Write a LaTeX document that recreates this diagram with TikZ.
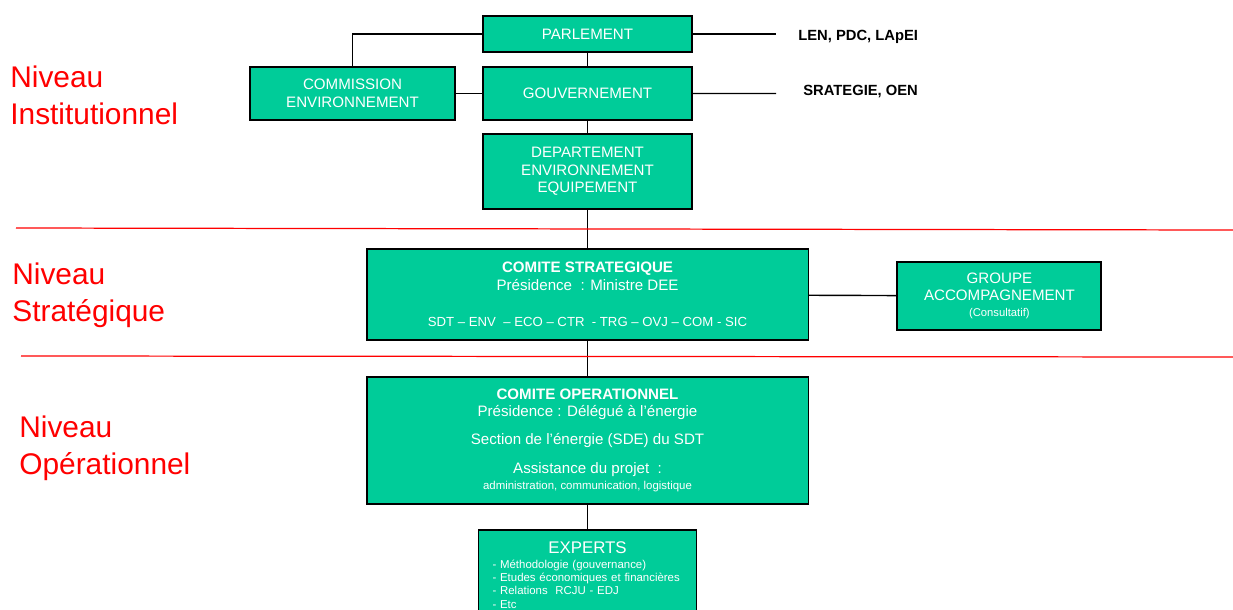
\documentclass[tikz,border=0pt]{standalone}
\usepackage{fontspec}
\setmainfont{Liberation Sans}
\usetikzlibrary{positioning}
\definecolor{boxgreen}{RGB}{0,204,153}
\definecolor{levelred}{RGB}{255,0,0}
\tikzset{
  orgbox/.style={
    rectangle, draw=black, line width=1.1pt, fill=boxgreen,
    text=white, align=center, inner sep=0pt, outer sep=0pt,
    font=\fontsize{8.6}{10}\selectfont
  },
  link/.style={line width=0.8pt},
  sepline/.style={draw=levelred, line width=0.7pt},
  lvl/.style={anchor=base west, inner sep=0pt, text=levelred, align=left,
    font=\fontsize{17}{20.5}\selectfont},
  side/.style={anchor=west, inner sep=0pt, font=\bfseries\fontsize{8.4}{10}\selectfont}
}

\begin{document}
\begin{tikzpicture}[x=0.02cm, y=-0.02cm]
  \useasboundingbox (0,0) rectangle (1233,609);
  \clip (0,0) rectangle (1233,609);

  %% niveau institutionnel
  \node[orgbox, minimum width=4.18cm, minimum height=0.72cm] (parl) at (587.5,34)
        {PARLEMENT};
  \node[orgbox, minimum width=4.18cm, minimum height=1.06cm, below=0.3cm of parl] (gouv)
        {GOUVERNEMENT};
  \node[orgbox, minimum width=4.1cm, minimum height=1.06cm, left=0.56cm of gouv] (comm)
        {COMMISSION\\ENVIRONNEMENT};
  \node[orgbox, minimum width=4.18cm, minimum height=1.5cm, below=0.28cm of gouv] (dep)
        {DEPARTEMENT\\ENVIRONNEMENT\\EQUIPEMENT};

  %% niveau strategique
  \node[orgbox, minimum width=8.84cm, minimum height=1.82cm, below=0.8cm of dep] (strat)
        {{\bfseries COMITE STRATEGIQUE}\\Présidence \ : Ministre DEE\\[11pt]
         {\fontsize{7.5}{9}\selectfont SDT – ENV \ – ECO – CTR \ - TRG – OVJ – COM - SIC}};
  \node[orgbox, minimum width=4.08cm, minimum height=1.36cm, right=1.78cm of strat,
        yshift=-0.03cm] (grp)
        {GROUPE\\ACCOMPAGNEMENT\\[-1pt]{\fontsize{6.4}{8}\selectfont (Consultatif)}};

  %% niveau operationnel
  \node[orgbox, minimum width=8.84cm, minimum height=2.54cm, below=0.74cm of strat] (oper)
        {{\bfseries COMITE OPERATIONNEL}\\Présidence : Délégué à l’énergie\\[6pt]
         Section de l'énergie (SDE) du SDT\\[6.5pt]Assistance du projet \ :\\[-1pt]
         {\fontsize{6.5}{8}\selectfont administration, communication, logistique}};
  \node[orgbox, text width=3.8cm, inner xsep=0.28cm, inner ysep=0.24cm, align=left,
        font=\fontsize{6.5}{7.6}\selectfont, below=0.52cm of oper] (exp)
        {\makebox[\hsize]{\fontsize{9.6}{11}\selectfont EXPERTS}\\[0.6pt]
         - Méthodologie (gouvernance)\\- Etudes économiques et financières\\
         - Relations \ RCJU - EDJ\\- Etc};

  %% textes a droite
  \coordinate (lenend) at (776,34);
  \coordinate (oenend) at (776,93.5);
  \node[side, right=0.44cm of lenend, yshift=-0.05cm] (len) {LEN, PDC, LApEI};
  \node[side, right=0.54cm of oenend, yshift=0.04cm] (oen) {SRATEGIE, OEN};

  %% liaisons
  \draw[link] (parl) -- (gouv);
  \draw[link] (gouv) -- (dep);
  \draw[link] (dep) -- (strat);
  \draw[link] (strat) -- (oper);
  \draw[link] (oper) -- (exp);
  \draw[link] (comm) -- (gouv);
  \draw[link] (parl.west) -| (comm.north);
  \draw[link] (strat) -- (grp);
  \draw[link] (parl) -- (lenend);
  \draw[link] (gouv) -- (oenend);

  %% niveaux
  \node[lvl] (inst) at (10,124) {Niveau\\Institutionnel};
  \node[lvl] (strg) at (12,321) {Niveau\\Stratégique};
  \node[lvl] (oprl) at (19,474) {Niveau\\Opérationnel};
  \draw[sepline] (16,228) -- (1233,230);
  \draw[sepline] (21,356) -- (1233,357);

\end{tikzpicture}
\end{document}
